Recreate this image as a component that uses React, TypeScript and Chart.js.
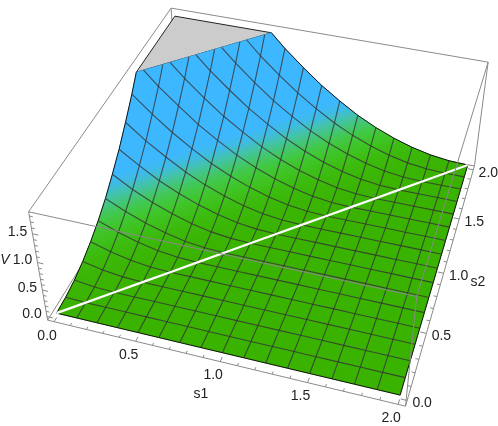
import { useEffect, useRef } from "react";
import { Chart, registerables } from "chart.js";
Chart.register(...registerables);

// ---- data ----
const s1Grid = [0, 0.125, 0.25, 0.375, 0.5, 0.625, 0.75, 0.875, 1, 1.125, 1.25, 1.375, 1.5, 1.625, 1.75, 1.875, 2];
const s2Grid = [0, 0.125, 0.25, 0.375, 0.5, 0.625, 0.75, 0.875, 1, 1.125, 1.25, 1.375, 1.5, 1.625, 1.75, 1.875, 2];
// height V on the surface for each mesh step of (s2 - s1); 0 where s1 >= s2
const gapHeights = [0, 0.015, 0.06, 0.14, 0.25, 0.39, 0.56, 0.77, 1, 1.27, 1.56, 1.89, 2.25, 2.64, 3.06, 3.5, 4];
const capV = 1.8;
const boxS = [-0.04, 2.04];
const boxV = [-0.07, 1.87];
const sTicks = [0, 0.1, 0.2, 0.3, 0.4, 0.5, 0.6, 0.7, 0.8, 0.9, 1, 1.1, 1.2, 1.3, 1.4, 1.5, 1.6, 1.7, 1.8, 1.9, 2];
const vTicks = [0, 0.1, 0.2, 0.3, 0.4, 0.5, 0.6, 0.7, 0.8, 0.9, 1, 1.1, 1.2, 1.3, 1.4, 1.5, 1.6, 1.7, 1.8];
const sLabels = [0, 0.5, 1, 1.5, 2];
const vLabels = [0, 0.5, 1, 1.5];

// camera anchors: box corner (s1 side, s2 side, V side) -> where it lies in the picture
const anchors: number[][] = [
  [0, 0, 0, 47.7, 320.7],
  [0, 0, 1, 28.7, 211],
  [1, 0, 0, 406, 406],
  [1, 0, 1, 416, 297],
  [1, 1, 0, 474, 165.7],
  [1, 1, 1, 488.7, 62.3],
  [0, 1, 1, 171, 8.3],
];

const colorStops: [number, number[]][] = [
  [0, [58, 178, 0]],
  [0.15, [60, 186, 12]],
  [0.3, [64, 198, 40]],
  [0.42, [66, 200, 80]],
  [0.56, [68, 196, 160]],
  [0.72, [61, 184, 255]],
  [4, [60, 180, 255]],
];

function solve(A: number[][], b: number[]) {
  const n = b.length;
  const M = A.map((r, i) => [...r, b[i]]);
  for (let c = 0; c < n; c++) {
    let p = c;
    for (let r = c + 1; r < n; r++) if (Math.abs(M[r][c]) > Math.abs(M[p][c])) p = r;
    [M[c], M[p]] = [M[p], M[c]];
    for (let r = 0; r < n; r++) {
      if (r === c) continue;
      const f = M[r][c] / M[c][c];
      for (let k = c; k <= n; k++) M[r][k] -= f * M[c][k];
    }
  }
  return M.map((r, i) => r[n] / r[i]);
}

function fitCamera() {
  const rows: number[][] = [];
  const rhs: number[] = [];
  for (const [a, b, c, u, v] of anchors) {
    const X = boxS[a], Y = boxS[b], Z = boxV[c];
    rows.push([X, Y, Z, 1, 0, 0, 0, 0, -u * X, -u * Y, -u * Z]);
    rhs.push(u);
    rows.push([0, 0, 0, 0, X, Y, Z, 1, -v * X, -v * Y, -v * Z]);
    rhs.push(v);
  }
  const n = 11;
  const AtA = Array.from({ length: n }, (_, i) =>
    Array.from({ length: n }, (_, j) => rows.reduce((s, r) => s + r[i] * r[j], 0))
  );
  const Atb = Array.from({ length: n }, (_, i) => rows.reduce((s, r, k) => s + r[i] * rhs[k], 0));
  return solve(AtA, Atb);
}
const cam = fitCamera();
type P = { x: number; y: number };
function project(a: number, b: number, c: number): P {
  const w = cam[8] * a + cam[9] * b + cam[10] * c + 1;
  return {
    x: (cam[0] * a + cam[1] * b + cam[2] * c + cam[3]) / w,
    y: (cam[4] * a + cam[5] * b + cam[6] * c + cam[7]) / w,
  };
}

function heightAt(i: number, j: number) {
  return j > i ? gapHeights[j - i] : 0;
}

function colorOf(v: number) {
  for (let k = 1; k < colorStops.length; k++) {
    if (v <= colorStops[k][0]) {
      const [v0, c0] = colorStops[k - 1];
      const [v1, c1] = colorStops[k];
      const t = Math.max(0, (v - v0) / (v1 - v0));
      const m = c0.map((c, n) => Math.round(c + (c1[n] - c) * t));
      return `rgb(${m[0]},${m[1]},${m[2]})`;
    }
  }
  return "rgb(60,180,255)";
}

type V3 = number[];
function clipBelow(poly: V3[]) {
  const out: V3[] = [];
  for (let k = 0; k < poly.length; k++) {
    const a = poly[k];
    const b = poly[(k + 1) % poly.length];
    if (a[2] <= capV) out.push(a);
    if ((a[2] <= capV) !== (b[2] <= capV)) {
      const t = (capV - a[2]) / (b[2] - a[2]);
      out.push([a[0] + (b[0] - a[0]) * t, a[1] + (b[1] - a[1]) * t, capV]);
    }
  }
  return out;
}

function clipLine(pts: V3[]) {
  const out: V3[] = [];
  for (let k = 0; k < pts.length; k++) {
    const a = pts[k];
    if (a[2] <= capV) out.push(a);
    const b = pts[k + 1];
    if (b && (a[2] <= capV) !== (b[2] <= capV)) {
      const t = (capV - a[2]) / (b[2] - a[2]);
      out.push([a[0] + (b[0] - a[0]) * t, a[1] + (b[1] - a[1]) * t, capV]);
    }
  }
  return out;
}

function capGap() {
  for (let k = 1; k < gapHeights.length; k++) {
    if (gapHeights[k] >= capV) {
      const t = (capV - gapHeights[k - 1]) / (gapHeights[k] - gapHeights[k - 1]);
      return s2Grid[k - 1] + t * (s2Grid[k] - s2Grid[k - 1]);
    }
  }
  return 2;
}

const toXY = (pts: V3[]) => pts.map((p) => project(p[0], p[1], p[2]));

function lineSet(pts: V3[], color: string, width: number) {
  return {
    data: toXY(pts),
    borderColor: color,
    borderWidth: width,
    pointRadius: 0,
    fill: false,
    tension: 0,
  };
}

function buildDatasets(ctx: CanvasRenderingContext2D) {
  const [sa, sb] = boxS;
  const [va, vb] = boxV;
  const edge = "#8a8a8a";
  const list: any[] = [];
  const seg = (a: V3, b: V3) => list.push(lineSet([a, b], edge, 1));

  // back of the box
  seg([sa, sa, va], [sa, sb, va]);
  seg([sa, sb, va], [sb, sb, va]);
  seg([sa, sb, va], [sa, sb, vb]);
  seg([sb, sb, va], [sb, sb, vb]);
  seg([sa, sa, vb], [sa, sb, vb]);
  seg([sa, sb, vb], [sb, sb, vb]);

  // flat top of the clipped surface
  const g = capGap();
  const capPoly: V3[] = [
    [0, g, capV],
    [0, 2, capV],
    [2 - g, 2, capV],
    [0, g, capV],
  ];
  list.push({
    data: toXY(capPoly),
    borderColor: "#222",
    borderWidth: 1,
    backgroundColor: "#cccccc",
    pointRadius: 0,
    fill: "shape",
    tension: 0,
  });

  // surface cells, far to near
  for (let j = s2Grid.length - 2; j >= 0; j--) {
    for (let i = 0; i < s1Grid.length - 1; i++) {
      const corners: V3[] = [
        [s1Grid[i], s2Grid[j], heightAt(i, j)],
        [s1Grid[i + 1], s2Grid[j], heightAt(i + 1, j)],
        [s1Grid[i + 1], s2Grid[j + 1], heightAt(i + 1, j + 1)],
        [s1Grid[i], s2Grid[j + 1], heightAt(i, j + 1)],
      ];
      const poly = clipBelow(corners);
      if (poly.length < 3) continue;
      const lo = poly.reduce((m, p) => (p[2] < m[2] ? p : m));
      const hi = poly.reduce((m, p) => (p[2] > m[2] ? p : m));
      let paint: any = colorOf(hi[2]);
      if (hi[2] - lo[2] > 0.002) {
        const vm = (lo[2] + hi[2]) / 2;
        const d0 = project(s1Grid[i], s2Grid[j], vm);
        const d1 = project(s1Grid[i + 1], s2Grid[j + 1], vm);
        let nx = -(d1.y - d0.y);
        let ny = d1.x - d0.x;
        const len = Math.hypot(nx, ny);
        nx /= len;
        ny /= len;
        const pl = project(lo[0], lo[1], lo[2]);
        const ph = project(hi[0], hi[1], hi[2]);
        const dot = (ph.x - pl.x) * nx + (ph.y - pl.y) * ny;
        const gr = ctx.createLinearGradient(pl.x, pl.y, pl.x + nx * dot, pl.y + ny * dot);
        for (let t = 0; t <= 4; t++) gr.addColorStop(t / 4, colorOf(lo[2] + ((hi[2] - lo[2]) * t) / 4));
        paint = gr;
      }
      list.push({
        data: toXY([...poly, poly[0]]),
        borderColor: paint,
        borderWidth: 0.6,
        backgroundColor: paint,
        pointRadius: 0,
        fill: "shape",
        tension: 0,
      });
    }
  }

  // mesh
  const meshColor = "rgba(50,50,50,0.8)";
  s1Grid.forEach((s, i) => {
    const pts = clipLine(s2Grid.map((t, j) => [s, t, heightAt(i, j)]));
    const outer = i === 0 || i === s1Grid.length - 1;
    list.push(lineSet(pts, outer ? "#111" : meshColor, outer ? 1 : 1.1));
  });
  s2Grid.forEach((t, j) => {
    const pts = clipLine(s1Grid.map((s, i) => [s, t, heightAt(i, j)]));
    const outer = j === 0 || j === s2Grid.length - 1;
    list.push(lineSet(pts, outer ? "#111" : meshColor, outer ? 1 : 1.1));
  });

  // white diagonal where s1 = s2
  list.push(lineSet(s1Grid.map((s) => [s, s, 0]), "#ffffff", 2.2));

  // front of the box
  seg([sa, sa, va], [sb, sa, va]);
  seg([sb, sa, va], [sb, sb, va]);
  seg([sb, sa, va], [sb, sa, vb]);
  seg([sa, sa, va], [sa, sa, vb]);
  seg([sa, sa, vb], [sb, sa, vb]);
  seg([sb, sa, vb], [sb, sb, vb]);

  // ticks
  const isMajor = (x: number) => Math.abs(x * 2 - Math.round(x * 2)) < 1e-6;
  sTicks.forEach((t) => {
    const l = isMajor(t) ? 0.035 : 0.02;
    seg([t, sa, va], [t, sa + l, va]);
    seg([sb, t, va], [sb - l, t, va]);
  });
  vTicks.forEach((t) => {
    const l = isMajor(t) ? 0.035 : 0.02;
    seg([sa, sa, t], [sa + l, sa, t]);
  });

  return list.reverse();
}

const labelPlugin = {
  id: "axisText",
  afterDraw(chart: any) {
    const c = chart.ctx as CanvasRenderingContext2D;
    c.save();
    c.fillStyle = "#222";
    c.textAlign = "center";
    c.textBaseline = "middle";
    c.font = '14px "Liberation Sans"';
    const f = (v: number) => v.toFixed(1);
    sLabels.forEach((t) => {
      const a = project(t, boxS[0], boxV[0]);
      c.fillText(f(t), a.x - 7, a.y + 14);
      const b = project(boxS[1], t, boxV[0]);
      c.fillText(f(t), b.x + 15, b.y + 3);
    });
    vLabels.forEach((t) => {
      const a = project(boxS[0], boxS[0], t);
      c.fillText(f(t), a.x - 15, a.y - 2);
    });
    c.fillText("s1", 201, 394);
    c.fillText("s2", 478, 282);
    c.font = 'italic 14px "Liberation Sans"';
    c.fillText("V", 5, 260);
    c.restore();
  },
};

export default function App() {
  const ref = useRef<HTMLCanvasElement>(null);
  useEffect(() => {
    const canvas = ref.current!;
    const chart = new Chart(canvas, {
      type: "line",
      data: { datasets: buildDatasets(canvas.getContext("2d")!) },
      options: {
        animation: false,
        responsive: false,
        events: [],
        clip: false,
        layout: { padding: 0 },
        plugins: { legend: { display: false }, tooltip: { enabled: false } },
        scales: {
          x: { type: "linear", min: 0, max: 498, display: false },
          y: { type: "linear", min: 0, max: 426, reverse: true, display: false },
        },
      } as any,
      plugins: [labelPlugin],
    } as any);
    return () => chart.destroy();
  }, []);
  return (
    <canvas
      ref={ref}
      width={498}
      height={426}
      style={{ position: "fixed", left: 0, top: 0, width: 498, height: 426 }}
    />
  );
}
